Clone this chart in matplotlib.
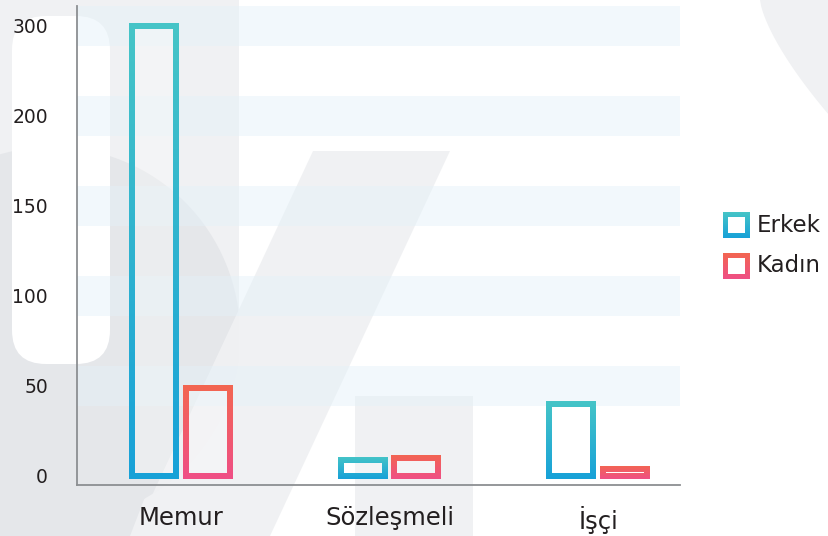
import numpy as np
import matplotlib
matplotlib.use("Agg")
import matplotlib.pyplot as plt
from matplotlib.path import Path
from matplotlib.patches import PathPatch, Polygon, Circle, FancyBboxPatch, Rectangle
from matplotlib.colors import LinearSegmentedColormap

plt.rcParams['font.family'] = ['DejaVu Sans']

# data
categories = ['Memur', 'Sözleşmeli', 'İşçi']
erkek = [300, 9, 40]
kadin = [49, 10, 4]
y_ticks = [0, 50, 100, 150, 200, 300]
series_names = ['Erkek', 'Kadın']

W, H = 829, 536
text_col = '#231f20'
erkek_cols = ('#46c5c7', '#17a1d8')   # top, bottom
kadin_cols = ('#f36650', '#ef4f86')


# axis is compressed above 200 so that 300 sits one step above 200
def fwd(y):
    y = np.asarray(y, dtype=float)
    return np.where(y <= 200, y, 200 + (y - 200) / 2)


def inv(u):
    u = np.asarray(u, dtype=float)
    return np.where(u <= 200, u, 200 + (u - 200) * 2)


fig = plt.figure(figsize=(W / 100, H / 100), dpi=100)

# background layer in pixel coordinates (y down)
bg = fig.add_axes([0, 0, 1, 1], zorder=0)
bg.set_xlim(0, W)
bg.set_ylim(H, 0)
bg.axis('off')

light = '#f0f1f3'
dark = '#e5e7ea'
bg.add_patch(Rectangle((0, 0), 239, H, color=light, lw=0))
circ = Circle((52, 335), 188, color=dark, lw=0)
bg.add_patch(circ)
circ.set_clip_path(Rectangle((0, 0), 239, H, transform=bg.transData))
bg.add_patch(Polygon([(0, 480), (95, 380), (190, 380), (130, 536), (0, 536)],
                     closed=True, color=dark, lw=0))
bg.add_patch(FancyBboxPatch((12, 16), 98, 348, boxstyle='round,pad=0,rounding_size=34',
                            color='white', lw=0))
bg.add_patch(Polygon([(313, 151), (450, 151), (270, 536), (133, 536)],
                     closed=True, color=light, lw=0, alpha=0.95))
bg.add_patch(Rectangle((355, 396), 118, H - 396, color=light, lw=0))
tt = np.linspace(0, 1, 30)
arc = [(760 + 69 * t ** 1.2, 115 * t ** 0.85) for t in tt]
bg.add_patch(Polygon(arc + [(W, 0)], closed=True, color=light, lw=0))

# chart axes
ax = fig.add_axes([77 / W, 1 - 485 / H, (680 - 77) / W, (485 - 6) / H], zorder=1)
ax.patch.set_alpha(0)
ax.set_yscale('function', functions=(fwd, inv))
ax.set_ylim(-5, 322)
ax.set_xlim(-0.499, 2.393)

x = np.arange(len(categories))
off, bw = 0.128, 0.211
bars_e = ax.bar(x - off, erkek, bw, color='none', edgecolor='none')
bars_k = ax.bar(x + off, kadin, bw, color='none', edgecolor='none')

ax.set_yticks(y_ticks)
ax.set_yticklabels([str(v) for v in y_ticks])
ax.set_xticks(x)
ax.set_xticklabels(categories)
ax.tick_params(axis='y', length=0, pad=21, labelsize=13.5, labelcolor=text_col)
ax.tick_params(axis='x', length=0, pad=15, labelsize=17.5, labelcolor=text_col)
for s in ['top', 'right']:
    ax.spines[s].set_visible(False)
for s in ['left', 'bottom']:
    ax.spines[s].set_color('#8c8f92')
    ax.spines[s].set_linewidth(1.3)


def to_bg(pts):
    return bg.transData.inverted().transform(ax.transData.transform(pts))


# pale stripes around each tick value
for v in y_ticks[1:]:
    (_, py), = to_bg([(0, v)])
    bg.add_patch(Rectangle((77, py - 20), 603, 40, color='#e3f1f9', alpha=0.45, lw=0))


def grad_frame(x0, y0, x1, y1, cols, lw=6):
    # gradient outline of a box given in pixel coordinates (y0 top, y1 bottom)
    h = lw / 2
    ox0, ox1, oy0, oy1 = x0 - h, x1 + h, y0 - h, y1 + h
    ix0, ix1, iy0, iy1 = x0 + h, x1 - h, y0 + h, y1 - h
    verts = [(ox0, oy0), (ox1, oy0), (ox1, oy1), (ox0, oy1), (ox0, oy0),
             (ix0, iy0), (ix0, iy1), (ix1, iy1), (ix1, iy0), (ix0, iy0)]
    codes = [Path.MOVETO, Path.LINETO, Path.LINETO, Path.LINETO, Path.CLOSEPOLY] * 2
    clip = PathPatch(Path(verts, codes), transform=bg.transData, facecolor='none', edgecolor='none')
    bg.add_patch(clip)
    cmap = LinearSegmentedColormap.from_list('g', list(cols))
    grad = np.linspace(0, 1, 256).reshape(-1, 1)
    im = bg.imshow(grad, cmap=cmap, extent=(ox0, ox1, oy1, oy0), origin='upper',
                   aspect='auto', interpolation='bilinear', zorder=3)
    im.set_clip_path(clip)
    if iy1 > iy0:
        bg.add_patch(Rectangle((ix0, iy0), ix1 - ix0, iy1 - iy0, color='white', alpha=0.25, lw=0, zorder=2))


for bars, cols in [(bars_e, erkek_cols), (bars_k, kadin_cols)]:
    for b in bars:
        bx, by, bwid, bh = b.get_x(), b.get_y(), b.get_width(), b.get_height()
        (px0, py_bot), (px1, py_top) = to_bg([(bx, by), (bx + bwid, by + bh)])
        grad_frame(px0, py_top, px1, py_bot, cols)

# legend
for i, (name, cols) in enumerate(zip(series_names, [erkek_cols, kadin_cols])):
    top = 212 + i * 41
    grad_frame(725.5, top + 2.5, 747.5, top + 23.5, cols, lw=5)
    bg.text(757, top + 13, name, fontsize=16.5, color=text_col, va='center', ha='left')

bg.set_xlim(0, W)
bg.set_ylim(H, 0)

fig.savefig('out.png', dpi=100, facecolor='white')
